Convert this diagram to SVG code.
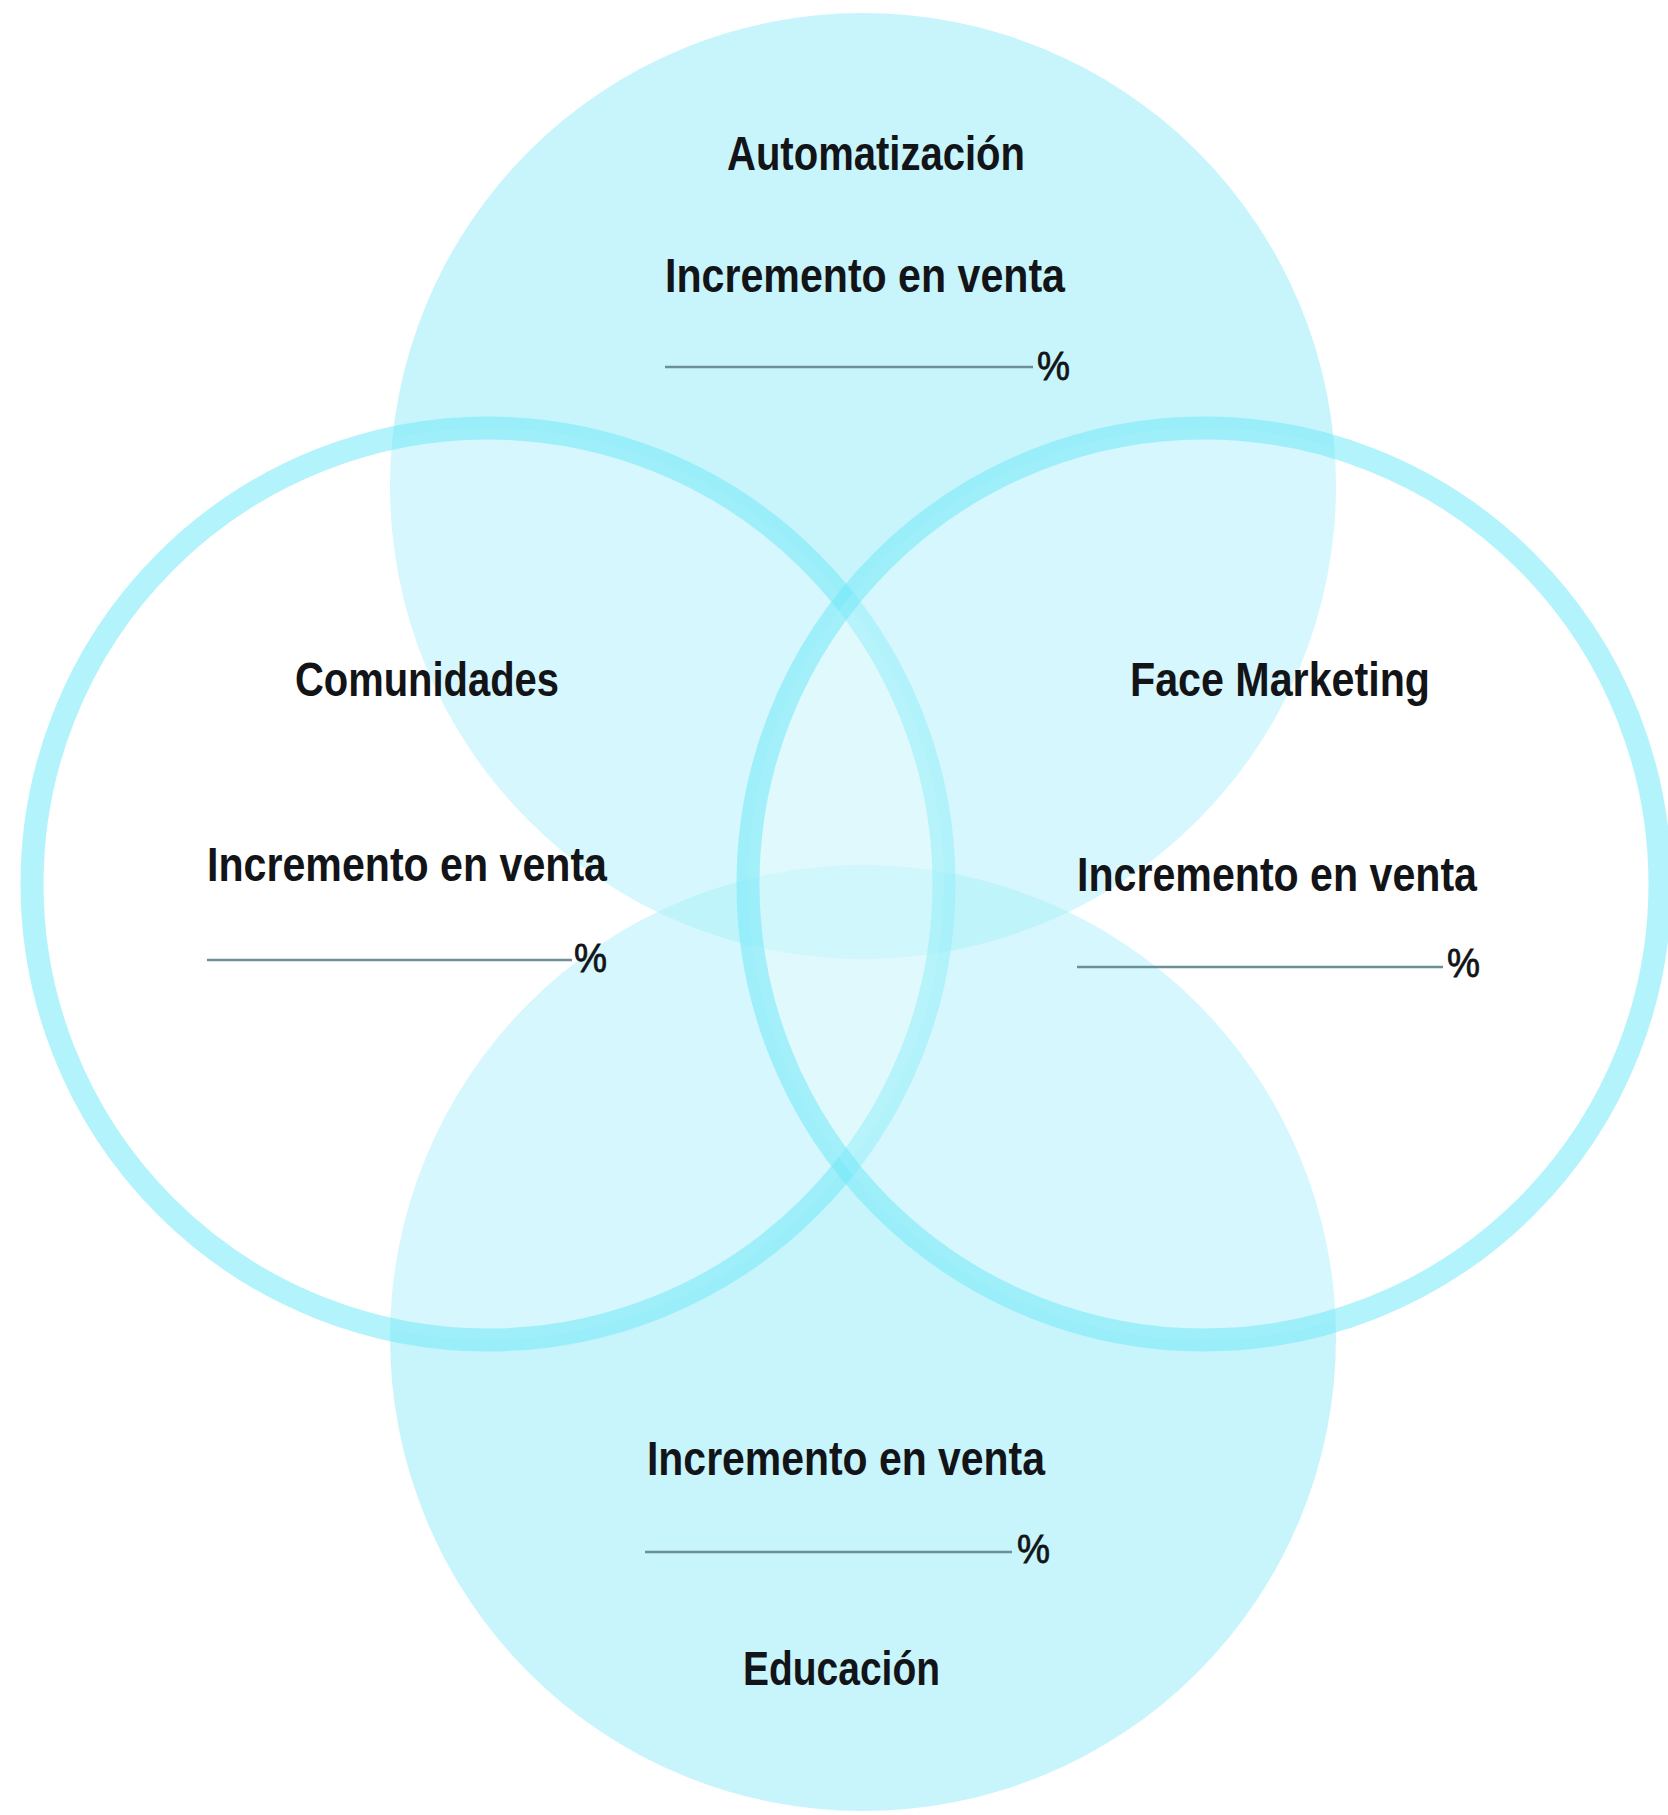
<svg xmlns="http://www.w3.org/2000/svg" width="1668" height="1815" viewBox="0 0 1668 1815">
<style>
.disc{fill:rgb(140,234,248);fill-opacity:0.48;stroke:none}
.ring{fill:#ffffff;fill-opacity:0.25;stroke:rgb(110,232,248);stroke-opacity:0.52;stroke-width:23}
.t{font-family:"Liberation Sans",Arial,sans-serif;font-weight:bold;font-size:48px;fill:#121418}
.p{font-family:"Liberation Sans",Arial,sans-serif;font-size:40px;fill:#121418;stroke:#121418;stroke-width:0.8}
.ln{stroke:#6d8f97;stroke-width:2.5}
</style>
<rect width="1668" height="1815" fill="#ffffff"/>
<g id="automatizacion">
<circle class="disc" cx="863" cy="486" r="473"/>
</g>
<g id="educacion">
<circle class="disc" cx="863" cy="1338" r="473"/>
</g>
<g id="comunidades">
<circle class="ring" cx="488" cy="884" r="456"/>
</g>
<g id="face-marketing">
<circle class="ring" cx="1204" cy="884" r="456"/>
</g>
<g id="labels">
<text class="t" x="727" y="170" textLength="298" lengthAdjust="spacingAndGlyphs">Automatización</text>
<text class="t" x="665" y="292" textLength="400" lengthAdjust="spacingAndGlyphs">Incremento en venta</text>
<line class="ln" x1="665" y1="367" x2="1033" y2="367"/>
<text class="p" x="1037" y="380" textLength="33" lengthAdjust="spacingAndGlyphs">%</text>

<text class="t" x="295" y="696" textLength="264" lengthAdjust="spacingAndGlyphs">Comunidades</text>
<text class="t" x="207" y="881" textLength="400" lengthAdjust="spacingAndGlyphs">Incremento en venta</text>
<line class="ln" x1="207" y1="960" x2="572" y2="960"/>
<text class="p" x="574" y="972" textLength="33" lengthAdjust="spacingAndGlyphs">%</text>

<text class="t" x="1130" y="696" textLength="300" lengthAdjust="spacingAndGlyphs">Face Marketing</text>
<text class="t" x="1077" y="891" textLength="400" lengthAdjust="spacingAndGlyphs">Incremento en venta</text>
<line class="ln" x1="1077" y1="967" x2="1443" y2="967"/>
<text class="p" x="1447" y="977" textLength="33" lengthAdjust="spacingAndGlyphs">%</text>

<text class="t" x="647" y="1475" textLength="398" lengthAdjust="spacingAndGlyphs">Incremento en venta</text>
<line class="ln" x1="645" y1="1552" x2="1012" y2="1552"/>
<text class="p" x="1017" y="1563" textLength="33" lengthAdjust="spacingAndGlyphs">%</text>
<text class="t" x="743" y="1685" textLength="197" lengthAdjust="spacingAndGlyphs">Educación</text>
</g>
</svg>
